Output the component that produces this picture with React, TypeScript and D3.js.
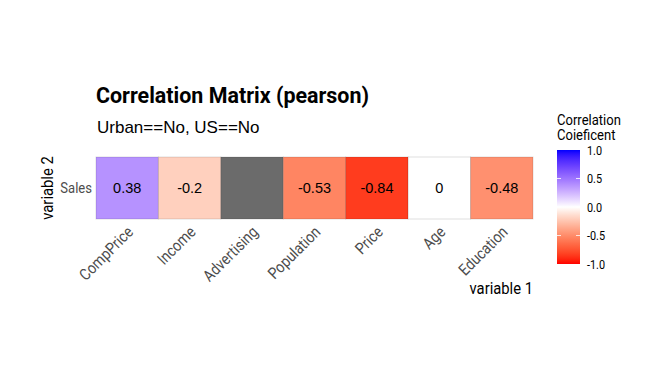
import * as d3 from "d3";

const variables = ["CompPrice", "Income", "Advertising", "Population", "Price", "Age", "Education"];
const rowVariable = "Sales";
const correlations: (number | null)[] = [0.38, -0.2, null, -0.53, -0.84, 0, -0.48];
const legendTicks = [1.0, 0.5, 0.0, -0.5, -1.0];

const W = 672;
const H = 384;
const rc = "Roboto, sans-serif";
const reg = "'Liberation Sans', Arial, sans-serif";
const SX = 0.87; // squeeze Roboto into a condensed look

function CText(props: {
  x: number;
  y: number;
  rotate?: number;
  anchor?: "start" | "middle" | "end";
  size: number;
  weight?: string;
  color?: string;
  dy?: string;
  children: string;
}) {
  const { x, y, rotate = 0, anchor = "start", size, weight = "normal", color = "#000", dy, children } = props;
  return (
    <text
      transform={`translate(${x},${y}) rotate(${rotate}) scale(${SX},1)`}
      textAnchor={anchor}
      dy={dy}
      fontFamily={rc}
      fontSize={size}
      fontWeight={weight}
      fill={color}
    >
      {children}
    </text>
  );
}

export default function App() {
  const plot = { left: 96, right: 533, top: 157, bottom: 219 };
  const x = d3.scaleBand<string>().domain(variables).range([plot.left, plot.right]).padding(0);
  const y = d3.scaleBand<string>().domain([rowVariable]).range([plot.top, plot.bottom]);

  // diverging red-white-blue ramp, pushed a little towards the saturated ends
  const ramp = (v: number) => {
    const t = 1 - Math.pow(1 - Math.abs(v), 1.3);
    return v < 0 ? d3.interpolateLab("white", "red")(t) : d3.interpolateLab("white", "blue")(t);
  };
  const fill = (v: number | null) => (v === null ? "#6b6b6b" : ramp(v));

  const bar = { x: 557, w: 23, top: 150, bottom: 264 };
  const ly = d3.scaleLinear().domain([1, -1]).range([bar.top, bar.bottom]);
  const stops = d3.range(0, 41).map((i) => 1 - i / 20);

  return (
    <svg width={W} height={H} style={{ position: "absolute", left: 0, top: 0, background: "white" }}>
      <defs>
        <linearGradient id="cb" x1="0" y1="0" x2="0" y2="1">
          {stops.map((v, i) => (
            <stop key={i} offset={`${(i / (stops.length - 1)) * 100}%`} stopColor={fill(v)} />
          ))}
        </linearGradient>
      </defs>

      <text
        x={96}
        y={103}
        fontFamily={rc}
        fontWeight="bold"
        fontSize={22.5}
        fill="#000"
        textLength={273}
        lengthAdjust="spacingAndGlyphs"
      >
        Correlation Matrix (pearson)
      </text>
      <text x={97} y={133} fontFamily={reg} fontSize={17} fill="#000">
        Urban==No, US==No
      </text>

      {variables.map((v, i) => (
        <g key={v}>
          <rect
            x={x(v)}
            y={y(rowVariable)}
            width={x.bandwidth()}
            height={y.bandwidth()}
            fill={fill(correlations[i])}
            stroke="rgba(0,0,0,0.13)"
            strokeWidth={1}
          />
          {correlations[i] !== null && (
            <text
              x={(x(v) ?? 0) + x.bandwidth() / 2}
              y={(y(rowVariable) ?? 0) + y.bandwidth() / 2}
              dy="0.36em"
              textAnchor="middle"
              fontFamily={reg}
              fontSize={14.5}
              fill="#000"
            >
              {String(correlations[i])}
            </text>
          )}
          <CText
            x={(x(v) ?? 0) + x.bandwidth() / 2 + 7}
            y={plot.bottom + 14}
            rotate={-45}
            anchor="end"
            size={16}
            color="#4d4d4d"
          >
            {v}
          </CText>
        </g>
      ))}

      <CText
        x={plot.left - 4}
        y={(y(rowVariable) ?? 0) + y.bandwidth() / 2}
        dy="0.36em"
        anchor="end"
        size={15}
        color="#4d4d4d"
      >
        {rowVariable}
      </CText>

      <CText x={plot.right} y={294} anchor="end" size={17} color="#000">
        variable 1
      </CText>
      <CText x={53} y={(plot.top + plot.bottom) / 2} rotate={-90} anchor="middle" size={17} color="#000">
        variable 2
      </CText>

      <CText x={557} y={125} size={15} color="#000">
        Correlation
      </CText>
      <CText x={557} y={140} size={15} color="#000">
        Coieficent
      </CText>
      <rect x={bar.x} y={bar.top} width={bar.w} height={bar.bottom - bar.top} fill="url(#cb)" />
      {legendTicks.map((t) => (
        <g key={t}>
          {t !== 1 && t !== -1 && (
            <>
              <line x1={bar.x} x2={bar.x + 4} y1={ly(t)} y2={ly(t)} stroke="white" strokeWidth={0.8} />
              <line x1={bar.x + bar.w - 4} x2={bar.x + bar.w} y1={ly(t)} y2={ly(t)} stroke="white" strokeWidth={0.8} />
            </>
          )}
          <CText x={587} y={ly(t)} dy="0.36em" size={12.5} color="#000">
            {t.toFixed(1)}
          </CText>
        </g>
      ))}
    </svg>
  );
}
